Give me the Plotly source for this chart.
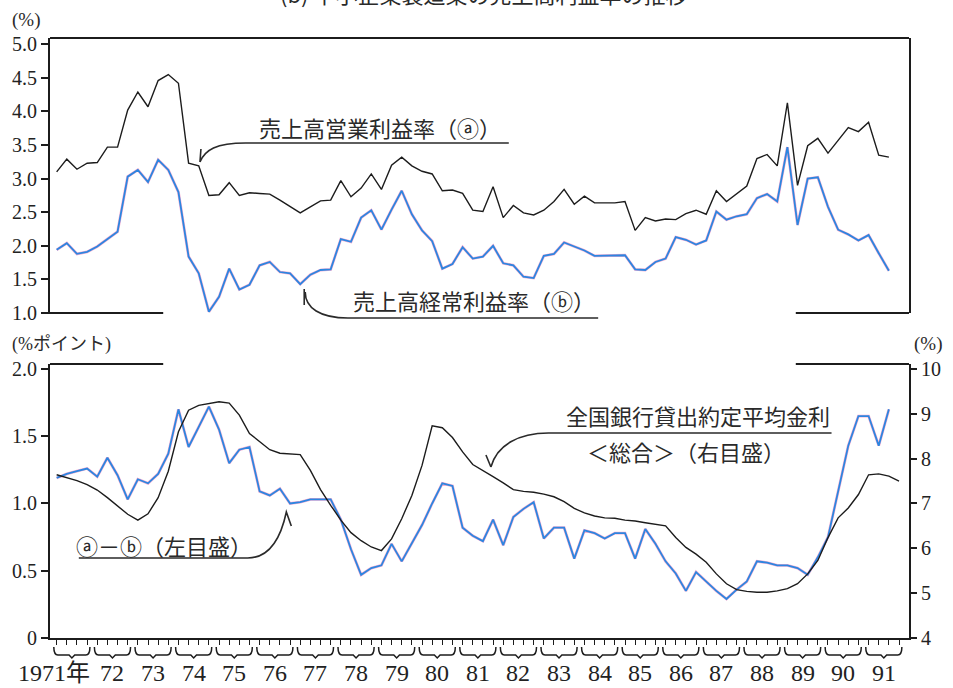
import plotly.graph_objects as go

# ---------------- data (quarterly, 1971Q1 ...) ----------------
start_year = 1971
years = list(range(1971, 1992))
year_labels = ["1971年"] + [str(y)[2:] for y in years[1:]]

# 売上高営業利益率 (a) %
op_margin = [3.10, 3.29, 3.14, 3.23, 3.24, 3.47, 3.47, 4.02, 4.29, 4.07, 4.46, 4.55, 4.42, 3.23,
             3.19, 2.75, 2.76, 2.94, 2.75, 2.79, 2.78, 2.77, 2.68, 2.58, 2.49, 2.58, 2.67, 2.68,
             2.97, 2.73, 2.86, 3.07, 2.84, 3.20, 3.32, 3.19, 3.11, 3.07, 2.82, 2.83, 2.78, 2.53,
             2.51, 2.88, 2.42, 2.60, 2.49, 2.46, 2.53, 2.66, 2.84, 2.62, 2.74, 2.64, 2.64, 2.64,
             2.66, 2.23, 2.42, 2.37, 2.40, 2.39, 2.48, 2.53, 2.47, 2.82, 2.66, 2.78, 2.89, 3.30,
             3.36, 3.19, 4.13, 2.90, 3.49, 3.60, 3.38, 3.57, 3.76, 3.70, 3.84, 3.35, 3.32]
# 売上高経常利益率 (b) %
ord_margin = [1.94, 2.04, 1.88, 1.91, 1.99, 2.10, 2.21, 3.03, 3.13, 2.95, 3.28, 3.13, 2.80, 1.84,
              1.59, 1.02, 1.24, 1.66, 1.35, 1.42, 1.71, 1.76, 1.61, 1.59, 1.43, 1.57, 1.64, 1.65,
              2.10, 2.06, 2.42, 2.53, 2.24, 2.54, 2.82, 2.47, 2.23, 2.07, 1.66, 1.73, 1.98, 1.81,
              1.84, 2.00, 1.74, 1.71, 1.54, 1.52, 1.85, 1.88, 2.05, 1.99, 1.93, 1.85, 1.85, 1.85,
              1.86, 1.65, 1.64, 1.76, 1.81, 2.13, 2.09, 2.02, 2.08, 2.51, 2.39, 2.44, 2.47, 2.71,
              2.77, 2.66, 3.47, 2.31, 3.00, 3.02, 2.58, 2.24, 2.17, 2.08, 2.16, 1.89, 1.63]
# (a)-(b) %ポイント
spread = [1.19, 1.22, 1.24, 1.26, 1.20, 1.34, 1.21, 1.03, 1.18, 1.15, 1.22, 1.37, 1.70, 1.42,
          1.57, 1.72, 1.55, 1.30, 1.40, 1.42, 1.09, 1.06, 1.11, 1.00, 1.01, 1.03, 1.03, 1.03,
          0.88, 0.66, 0.47, 0.52, 0.54, 0.70, 0.57, 0.70, 0.84, 1.00, 1.15, 1.13, 0.82, 0.76,
          0.72, 0.88, 0.69, 0.90, 0.96, 1.01, 0.74, 0.82, 0.82, 0.59, 0.80, 0.78, 0.74, 0.78,
          0.78, 0.59, 0.81, 0.70, 0.57, 0.48, 0.35, 0.49, 0.42, 0.35, 0.29, 0.36, 0.42, 0.57,
          0.56, 0.54, 0.54, 0.52, 0.47, 0.60, 0.75, 1.10, 1.43, 1.65, 1.65, 1.43, 1.70]
# 全国銀行貸出約定平均金利<総合> %
loan_rate = [7.64, 7.58, 7.51, 7.42, 7.30, 7.13, 6.94, 6.76, 6.63, 6.77, 7.13, 7.72, 8.60, 9.08,
             9.19, 9.23, 9.27, 9.24, 8.97, 8.56, 8.37, 8.20, 8.12, 8.11, 8.09, 7.74, 7.31, 6.96,
             6.63, 6.35, 6.17, 6.03, 5.95, 6.21, 6.66, 7.18, 7.85, 8.73, 8.69, 8.47, 8.15, 7.87,
             7.74, 7.60, 7.46, 7.31, 7.27, 7.25, 7.21, 7.15, 7.04, 6.89, 6.79, 6.72, 6.68, 6.67,
             6.63, 6.61, 6.57, 6.54, 6.50, 6.24, 6.02, 5.87, 5.69, 5.43, 5.21, 5.08, 5.04, 5.02,
             5.02, 5.05, 5.10, 5.21, 5.43, 5.73, 6.24, 6.68, 6.90, 7.20, 7.64, 7.66, 7.61, 7.50]

def qx(n):
    return [start_year + i / 4 for i in range(n)]

quarters = qx(len(loan_rate))

# ---------------- layout helpers (pixel -> paper) ----------------
W, H = 953, 688
L, R, T, B = 48, 913, 38, 638
def px(x): return (x - L) / (R - L)
def py(y): return (B - y) / (B - T)

def ppath(parts):
    s = ""
    for cmd, pts in parts:
        s += cmd + " " + " ".join(f"{px(a):.5f},{py(b):.5f}" for a, b in pts) + " "
    return s.strip()

BLUE = "#2c86e0"
PINK = "rgba(235,105,170,0.55)"
BLACK = "#1c1c1c"
SERIF = "Liberation Serif"
JP = "Noto Sans CJK JP"

fig = go.Figure()

# top panel
fig.add_trace(go.Scatter(x=qx(len(op_margin)), y=op_margin, mode="lines", xaxis="x", yaxis="y",
                         line=dict(color=BLACK, width=1.4)))
fig.add_trace(go.Scatter(x=qx(len(ord_margin)), y=ord_margin, mode="lines", xaxis="x", yaxis="y",
                         line=dict(color=PINK, width=2.8)))
fig.add_trace(go.Scatter(x=qx(len(ord_margin)), y=ord_margin, mode="lines", xaxis="x", yaxis="y",
                         line=dict(color=BLUE, width=1.8)))
# bottom panel
fig.add_trace(go.Scatter(x=qx(len(spread)), y=spread, mode="lines", xaxis="x", yaxis="y2",
                         line=dict(color=PINK, width=2.8)))
fig.add_trace(go.Scatter(x=qx(len(spread)), y=spread, mode="lines", xaxis="x", yaxis="y2",
                         line=dict(color=BLUE, width=1.8)))
fig.add_trace(go.Scatter(x=quarters, y=loan_rate, mode="lines", xaxis="x", yaxis="y3",
                         line=dict(color=BLACK, width=1.4)))

x0 = start_year - (54.7 - L) / 40.88
x1 = start_year + (R - 54.7) / 40.88

axis_common = dict(showgrid=False, zeroline=False, showline=True, linecolor=BLACK, linewidth=2,
                   ticks="outside", tickcolor=BLACK, tickwidth=1.5,
                   tickfont=dict(family=SERIF, size=20, color="#222"))

fig.update_layout(
    width=W, height=H,
    margin=dict(l=L, r=W - R, t=T, b=H - B),
    plot_bgcolor="white", paper_bgcolor="white",
    showlegend=False,
    xaxis=dict(domain=[0, 1], anchor="y2", range=[x0, x1], showgrid=False, zeroline=False,
               showline=True, linecolor=BLACK, linewidth=2, ticks="outside", ticklen=5,
               tickwidth=1.3, tickcolor=BLACK, tickvals=quarters, showticklabels=False),
    yaxis=dict(domain=[py(313), 1.0], anchor="x", range=[1.0, 5.0 + 6.3 / 67.2],
               tickvals=[1.0, 1.5, 2.0, 2.5, 3.0, 3.5, 4.0, 4.5, 5.0],
               ticktext=["1.0", "1.5", "2.0", "2.5", "3.0", "3.5", "4.0", "4.5", "5.0"],
               ticklen=7, mirror=True, **axis_common),
    yaxis2=dict(domain=[0, py(364)], anchor="x", range=[0, 2.037],
                tickvals=[0, 0.5, 1.0, 1.5, 2.0], ticktext=["0", "0.5", "1.0", "1.5", "2.0"],
                ticklen=7, **axis_common),
    yaxis3=dict(overlaying="y2", side="right", anchor="x", range=[4, 4 + 6 * 2.037 / 2.0],
                tickvals=[4, 5, 6, 7, 8, 9, 10], ticklen=6, **axis_common),
)

shapes = []
line_style = dict(color=BLACK, width=2)
# top panel frame: top border + partial bottom borders
shapes.append(dict(type="line", xref="paper", yref="paper", x0=0, x1=1, y0=1, y1=1, line=line_style))
shapes.append(dict(type="line", xref="paper", yref="paper", x0=px(40), x1=px(162), y0=py(313), y1=py(313), line=line_style))
shapes.append(dict(type="line", xref="paper", yref="paper", x0=px(799), x1=1, y0=py(313), y1=py(313), line=line_style))
# bottom panel partial top borders
shapes.append(dict(type="line", xref="paper", yref="paper", x0=0, x1=px(162), y0=py(364), y1=py(364), line=line_style))
shapes.append(dict(type="line", xref="paper", yref="paper", x0=px(799), x1=1, y0=py(364), y1=py(364), line=line_style))

# year braces under the axis
yb0, yb1, yb2 = py(647), py(655), py(658)
for yr in years:
    a, b = yr - 0.07, yr + 0.82
    m = (a + b) / 2
    d = f"M {a},{yb0} Q {a},{yb1} {a+0.1},{yb1} L {m-0.07},{yb1} L {m},{yb2} L {m+0.07},{yb1} L {b-0.1},{yb1} Q {b},{yb1} {b},{yb0}"
    shapes.append(dict(type="path", xref="x", yref="paper", path=d, line=dict(color=BLACK, width=1.5)))

# leader lines of the labels
thin = dict(color="#2a2a2a", width=1.6)
leaders = [
    [("M", [(510, 143)]), ("L", [(245, 143)]), ("C", [(215, 143), (204, 150), (199, 162)]),
     ("M", [(200, 149)]), ("L", [(199, 162)])],
    [("M", [(600, 318)]), ("L", [(348, 318)]), ("C", [(320, 318), (305, 308), (305, 292)]),
     ("M", [(304, 289)]), ("L", [(304, 305)])],
    [("M", [(835, 433)]), ("L", [(550, 433)]), ("C", [(520, 433), (498, 445), (492, 467)]),
     ("M", [(487, 455)]), ("L", [(492, 467)])],
    [("M", [(77, 558)]), ("L", [(247, 558)]), ("C", [(268, 558), (280, 540), (286, 512)]),
     ("L", [(291, 526)])],
]
for p in leaders:
    shapes.append(dict(type="path", xref="paper", yref="paper", path=ppath(p), line=thin))
fig.update_layout(shapes=shapes)

anns = []
def txt(t, x, y, size=22, xanchor="left", family=JP, color="#2a2a2a"):
    anns.append(dict(text=t, x=px(x), y=py(y), xref="paper", yref="paper", xanchor=xanchor,
                     yanchor="middle", showarrow=False, font=dict(family=family, size=size, color=color)))

txt("売上高営業利益率（ⓐ）", 256, 127)
txt("売上高経常利益率（ⓑ）", 351, 300)
txt("全国銀行貸出約定平均金利", 835, 415, xanchor="right")
txt("＜総合＞（右目盛）", 688, 451, xanchor="center")
txt("ⓐ－ⓑ（左目盛）", 72, 545)
txt("(%)", 8, 20, size=19, family=SERIF)
txt("(%ポイント)", 8, 344, size=18, family="Liberation Serif, Noto Sans CJK JP")
txt("(%)", 916, 344, size=19, family=SERIF)
txt("(b) 中小企業製造業の売上高利益率の推移", 485, -7, xanchor="center")

# year labels
for yr, lab in zip(years, year_labels):
    if yr == years[0]:
        anns.append(dict(text=lab, x=yr + 0.86, y=py(673), xref="x", yref="paper", xanchor="right",
                         yanchor="middle", showarrow=False,
                         font=dict(family="Liberation Serif, Noto Sans CJK JP", size=24, color="#222")))
    else:
        anns.append(dict(text=lab, x=yr + 0.375, y=py(673), xref="x", yref="paper", xanchor="center",
                         yanchor="middle", showarrow=False, font=dict(family=SERIF, size=24, color="#222")))
fig.update_layout(annotations=anns)

fig.write_html("out.html", config={"displayModeBar": False},
               post_script="document.body.style.margin='0px';document.body.style.overflow='hidden';")
